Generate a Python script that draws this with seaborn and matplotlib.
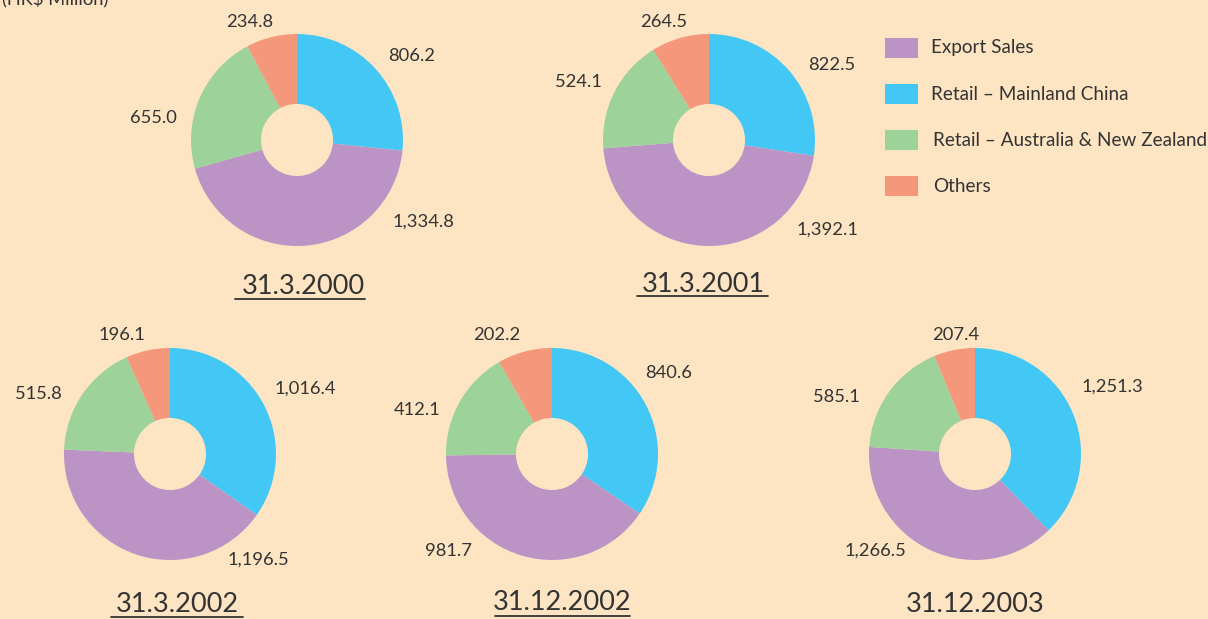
import matplotlib
matplotlib.use("Agg")
import matplotlib.pyplot as plt
from matplotlib.patches import Rectangle
import seaborn as sns

# ─── Data ─────────────────────────────────────────────────────────────────────
categories = ["Retail – Mainland China", "Export Sales",
              "Retail – Australia & New Zealand", "Others"]
legend_order = ["Export Sales", "Retail – Mainland China",
                "Retail – Australia & New Zealand", "Others"]
dates = ["31.3.2000", "31.3.2001", "31.3.2002", "31.12.2002", "31.12.2003"]

china  = [806.2, 822.5, 1016.4, 840.6, 1251.3]
export = [1334.8, 1392.1, 1196.5, 981.7, 1266.5]
aus_nz = [655.0, 524.1, 515.8, 412.1, 585.1]
others = [234.8, 264.5, 196.1, 202.2, 207.4]

# ─── Layout (pixels, y from top) ──────────────────────────────────────────────
W, H = 1208, 619
BG = "#fde4c3"
TXT = "#333333"
colors = dict(zip(categories, ["#43c7f4", "#bc93c5", "#9dd29b", "#f5977a"]))

centers = [(297, 140), (709, 140), (170, 454), (552, 454), (975, 454)]
R = 106
# label offsets from each centre: china, export, aus_nz, others
label_pos = [
    [(115, -84), (126, 82), (-144, -22), (-47, -118)],
    [(123, -75), (118, 90), (-131, -58), (-45, -118)],
    [(135, -65), (88, 106), (-132, -60), (-48, -119)],
    [(117, -81), (-104, 97), (-135, -44), (-55, -119)],
    [(137, -67), (-100, 97), (-139, -57), (-19, -119)],
]
title_pos = [(303, 287), (703, 284), (177, 604), (562, 603), (975, 605)]
underline = [(235, 365, 299), (637, 768, 296), (111, 243, 617),
             (495, 630, 616), None]

sns.set_theme(style="white")
plt.rcParams["font.family"] = ["Lato", "DejaVu Sans"]

fig = plt.figure(figsize=(W / 100, H / 100), dpi=100, facecolor=BG)
ax = fig.add_axes([0, 0, 1, 1])


def fy(y):
    return H - y


for i, (cx, cy) in enumerate(centers):
    vals = [china[i], export[i], aus_nz[i], others[i]]
    ax.pie(vals, colors=[colors[c] for c in categories], center=(cx, fy(cy)),
           radius=R, startangle=90, counterclock=False,
           wedgeprops=dict(width=R * 0.66, linewidth=0))
    for v, (dx, dy) in zip(vals, label_pos[i]):
        ax.text(cx + dx, fy(cy + dy), f"{v:,.1f}", ha="center", va="center",
                fontsize=13.2, color=TXT)
    tx, ty = title_pos[i]
    ax.text(tx, fy(ty), dates[i], ha="center", va="center", fontsize=19.5,
            color=TXT)
    if underline[i]:
        x0, x1, uy = underline[i]
        ax.plot([x0, x1], [fy(uy), fy(uy)], color=TXT, lw=1.3)

# legend drawn by hand to match the original placement
for j, name in enumerate(legend_order):
    yy = 48 + j * 46
    ax.add_patch(Rectangle((885, fy(yy + 10)), 33, 20, color=colors[name],
                           lw=0))
    ax.text(931 + (2 if j >= 2 else 0), fy(yy), name, ha="left",
            va="center", fontsize=13.6, color=TXT)

ax.text(2, fy(0), "(HK$ Million)", ha="left", va="center", fontsize=13.2,
        color=TXT)

ax.set_xlim(0, W)
ax.set_ylim(0, H)
ax.set_aspect("auto")
ax.axis("off")
fig.savefig("out.png", dpi=100, facecolor=BG)
